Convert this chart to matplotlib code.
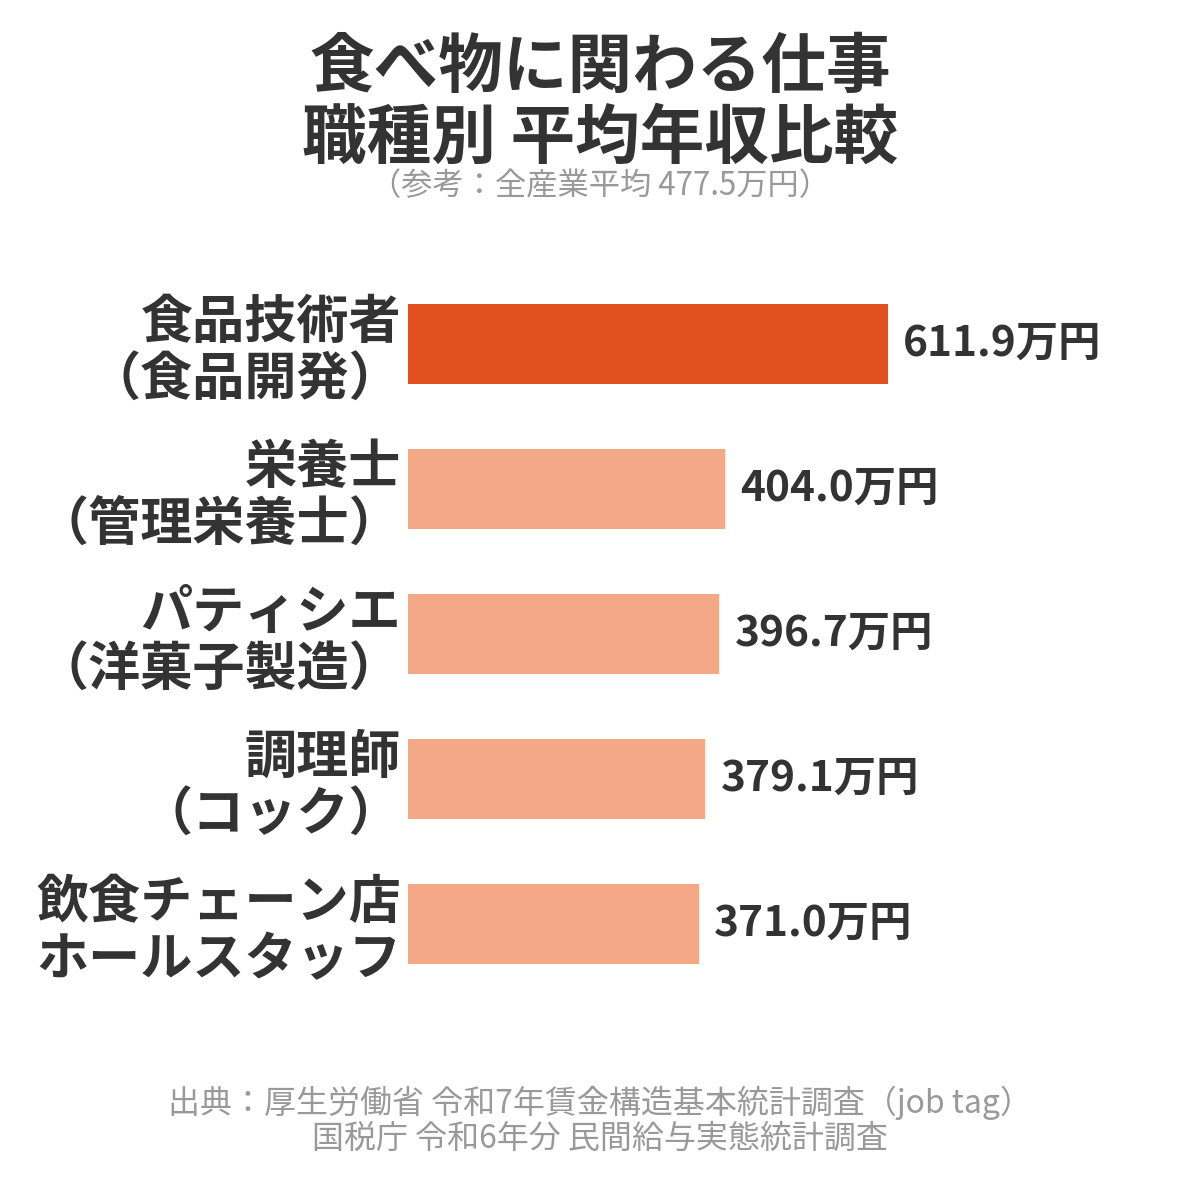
import matplotlib
matplotlib.use("Agg")
import matplotlib.pyplot as plt

plt.rcParams['font.family'] = ['Noto Sans CJK JP', 'DejaVu Sans']

# data
jobs = ["食品技術者\n（食品開発）", "栄養士\n（管理栄養士）", "パティシエ\n（洋菓子製造）",
        "調理師\n（コック）", "飲食チェーン店\nホールスタッフ"]
salary = [611.9, 404.0, 396.7, 379.1, 371.0]
highlight = [True, False, False, False, False]

fig = plt.figure(figsize=(12, 11.8), dpi=100)
ax = fig.add_axes([408 / 1200, 1 - 996.5 / 1180, 692 / 1200, 725 / 1180])

colors = ["#E35020" if h else "#F4A886" for h in highlight]
ypos = list(range(len(jobs)))
ax.barh(ypos, salary, height=0.55, color=colors)
ax.set_xlim(0, 692 / (480 / 611.9))
ax.set_ylim(len(jobs) - 0.5, -0.5)
ax.axis("off")

for y, v, name in zip(ypos, salary, jobs):
    ax.annotate(f"{v:.1f}万円", xy=(v, y), xytext=(11, 0), textcoords="offset points",
                ha="left", va="center", fontsize=30.5, fontweight="bold", color="#333333")
    ax.annotate(name, xy=(0, y), xytext=(-5, -5), textcoords="offset points",
                ha="right", va="center", fontsize=37.5, fontweight="bold", color="#333333",
                linespacing=1.1, multialignment="right")

fig.text(0.5, 1 - 104 / 1180, "食べ物に関わる仕事\n職種別 平均年収比較", ha="center", va="center",
         fontsize=46.5, fontweight="bold", color="#333333", linespacing=1.1)
fig.text(0.5, 1 - 186 / 1180, "（参考：全産業平均 477.5万円）", ha="center", va="center",
         fontsize=22.5, color="#999999")
fig.text(0.5, 1 - 1120 / 1180,
         "出典：厚生労働省 令和7年賃金構造基本統計調査（job tag）\n国税庁 令和6年分 民間給与実態統計調査",
         ha="center", va="center", fontsize=23, color="#999999", linespacing=1.1)

fig.savefig("out.png", dpi=100)
